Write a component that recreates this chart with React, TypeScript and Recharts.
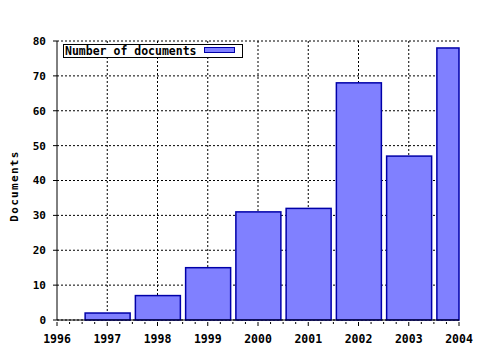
import { Bar, BarChart, CartesianGrid, Legend, XAxis, YAxis } from 'recharts'

const years = [1997, 1998, 1999, 2000, 2001, 2002, 2003, 2004]
const documents = [2, 7, 15, 31, 32, 68, 47, 78]
const xTickLabels = [1996, 1997, 1998, 1999, 2000, 2001, 2002, 2003, 2004]
const yTicks = [0, 10, 20, 30, 40, 50, 60, 70, 80]
const seriesName = 'Number of documents'
const yTitle = 'Documents'

const data = years.map((year, i) => ({ year, documents: documents[i] }))

const X_MIN = xTickLabels[0]
const X_MAX = xTickLabels[xTickLabels.length - 1]
// quarter-year minor ticks along both horizontal axes
const quarterTicks = xTickLabels.flatMap((y) => [y, y + 0.25, y + 0.5, y + 0.75]).filter((v) => v <= X_MAX)

const WIDTH = 480
const HEIGHT = 350
const MARGIN = { top: 41, right: 21, left: 0, bottom: 0 }
const PLOT_RIGHT = WIDTH - MARGIN.right

const FONT = '"DejaVu Sans Mono", monospace'
const FILL = '#8080ff'
const EDGE = '#0000a8'

function BottomTick({ x, y, payload }: any) {
  const major = Number.isInteger(payload.value)
  return (
    <g>
      <line x1={x} x2={x} y1={y} y2={y + (major ? 4 : 2)} stroke="#000" />
      {major && (
        <text x={x} y={y + 21} textAnchor="middle" fontFamily={FONT} fontWeight="bold" fontSize={11.5} fill="#000">
          {payload.value}
        </text>
      )}
    </g>
  )
}

function TopTick({ x, y, payload }: any) {
  const major = Number.isInteger(payload.value)
  return <line x1={x} x2={x} y1={y} y2={y - (major ? 4 : 2)} stroke="#000" />
}

// keep the last bar inside the plot, with its edge drawn at the border
function ClippedBar({ x, y, width, height }: any) {
  const w = Math.min(width, PLOT_RIGHT - x)
  return <rect x={x} y={y} width={w} height={height} fill={FILL} stroke={EDGE} strokeWidth={1.5} />
}

function LegendBox() {
  return (
    <div
      style={{
        position: 'relative',
        boxSizing: 'border-box',
        width: 180,
        height: 14,
        border: '1px solid #000',
        background: '#fff',
      }}
    >
      <span
        style={{
          position: 'absolute',
          left: 1,
          top: 0,
          lineHeight: '12px',
          fontFamily: FONT,
          fontWeight: 'bold',
          fontSize: 11.5,
          color: '#000',
          whiteSpace: 'nowrap',
        }}
      >
        {seriesName}
      </span>
      <span
        style={{
          position: 'absolute',
          left: 140,
          top: 2,
          width: 31,
          height: 6,
          boxSizing: 'border-box',
          background: FILL,
          border: `1.5px solid ${EDGE}`,
        }}
      />
    </div>
  )
}

function YTitle() {
  return (
    <text
      x={18}
      y={186}
      transform="rotate(-90, 18, 186)"
      textAnchor="middle"
      fontFamily={FONT}
      fontWeight="bold"
      fontSize={11}
      letterSpacing={1.3}
      fill="#000"
    >
      {yTitle}
    </text>
  )
}

export default function App() {
  return (
    <div style={{ position: 'absolute', left: 0, top: 0, width: WIDTH, height: HEIGHT, background: '#fff' }}>
      <BarChart width={WIDTH} height={HEIGHT} data={data} margin={MARGIN}>
        <CartesianGrid
          stroke="#000"
          strokeDasharray="2 2"
          verticalCoordinatesGenerator={({ offset }: any) =>
            xTickLabels.slice(1, -1).map((v) => offset.left + ((v - X_MIN) / (X_MAX - X_MIN)) * offset.width)
          }
        />
        <XAxis
          dataKey="year"
          type="number"
          domain={[X_MIN, X_MAX]}
          ticks={quarterTicks}
          interval={0}
          height={30}
          tickSize={0}
          tickLine={false}
          tick={<BottomTick />}
          axisLine={{ stroke: '#000' }}
        />
        <XAxis
          xAxisId="top"
          dataKey="year"
          type="number"
          orientation="top"
          domain={[X_MIN, X_MAX]}
          ticks={quarterTicks}
          interval={0}
          height={0}
          tickSize={0}
          tickLine={false}
          tick={<TopTick />}
          axisLine={{ stroke: '#000' }}
        />
        <YAxis
          domain={[0, 80]}
          ticks={yTicks}
          interval={0}
          width={57}
          tickSize={4}
          tickMargin={7}
          tickLine={{ stroke: '#000' }}
          axisLine={{ stroke: '#000' }}
          tick={{ fontFamily: FONT, fontWeight: 'bold', fontSize: 11, fill: '#000' }}
          label={<YTitle />}
        />
        <Legend
          layout="horizontal"
          align="center"
          verticalAlign="middle"
          content={<LegendBox />}
          wrapperStyle={{ position: 'absolute', left: 63, top: 44, width: 180, height: 14 }}
        />
        <Bar dataKey="documents" name={seriesName} barSize={45} shape={<ClippedBar />} isAnimationActive={false} />
      </BarChart>
    </div>
  )
}
